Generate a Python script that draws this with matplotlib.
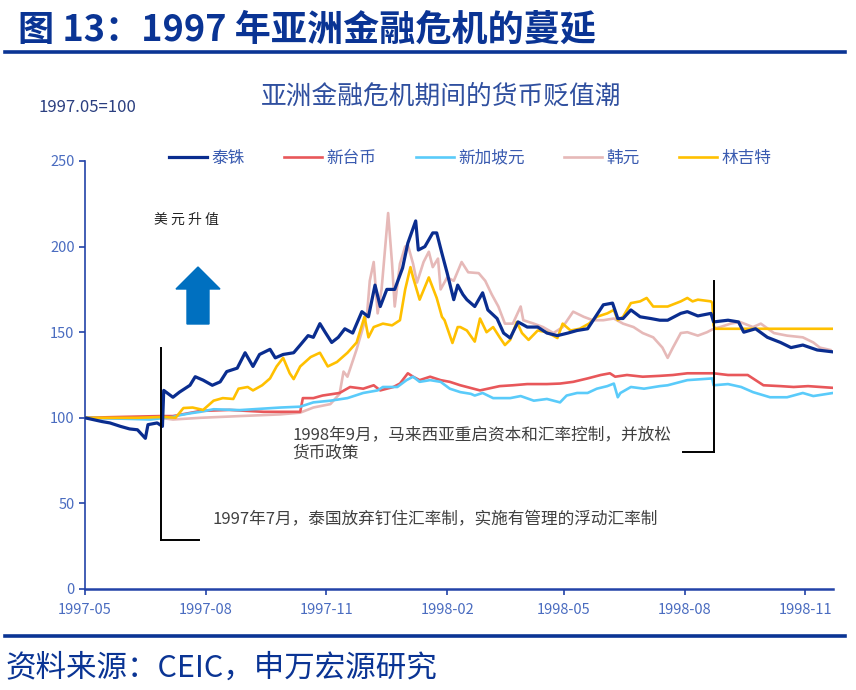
import pandas as pd
import matplotlib.pyplot as plt
import matplotlib.dates as mdates
from matplotlib.lines import Line2D
from matplotlib.patches import FancyArrow

plt.rcParams['font.family'] = ['Noto Sans CJK SC', 'DejaVu Sans']

# Data: days since 1997-05-01, index 1997.05 = 100
start = pd.Timestamp("1997-05-01")

thb_day = [0, 13, 19, 27, 34, 40, 46, 48, 55, 59, 60, 67, 72, 80, 84, 90, 97, 103, 108, 116,
           122, 128, 133, 141, 145, 151, 159, 164, 170, 174, 179, 183, 188, 193, 198, 204, 211, 216, 221, 225,
           230, 236, 242, 246, 252, 254, 259, 265, 268, 272, 276, 281, 284, 288, 291, 297, 303, 307, 314, 319,
           324, 330, 337, 345, 352, 360, 368, 375, 383, 389, 395, 402, 406, 410, 416, 423, 431, 438, 444, 454,
           459, 467, 477, 479, 490, 498, 502, 511, 520, 530, 538, 547, 558, 570]
thb_val = [100, 97.8, 97, 95, 93.5, 93, 88, 96, 97, 95, 116, 112, 115, 119, 124, 122, 119, 121, 127, 129,
           138, 130, 137, 140, 135, 137, 138, 142.5, 148, 147, 155, 150, 144, 147, 152, 149.5, 162, 159, 177.5, 165,
           175, 175, 187.5, 202, 215, 198, 200, 208, 208, 196, 184.5, 169, 177.5, 172, 169, 165, 173, 163, 158, 149.5,
           146.6, 156, 153, 153, 149.5, 148, 149.5, 151, 152, 159, 166, 167, 158, 158, 163, 159, 158, 157, 157, 161,
           162, 159.5, 161, 156, 157, 156, 150, 152, 147, 144, 141, 142.5, 139.6, 138.5]

twd_day = [0, 27, 57, 67, 88, 110, 136, 164, 166, 174, 181, 194, 202, 212, 220, 225, 235, 240, 246, 250,
           255, 263, 271, 278, 286, 296, 301, 307, 316, 326, 337, 352, 362, 372, 383, 393, 400, 404, 413, 425,
           438, 448, 459, 479, 490, 505, 509, 517, 530, 540, 551, 570]
twd_val = [100, 100.5, 101, 101, 104, 104.6, 103.5, 103.5, 111.5, 111.5, 113, 114.5, 118, 117, 119, 116, 118, 120, 126, 124,
           122, 124, 122, 121, 119, 117, 116, 117, 118.5, 119, 119.7, 119.7, 120, 121, 123, 125, 126, 124, 125, 124,
           124.5, 125, 126, 126, 125, 125, 123, 119, 118.5, 118, 118.5, 117.5]

sgd_day = [0, 27, 50, 67, 72, 80, 88, 98, 118, 149, 164, 174, 187, 200, 212, 223, 227, 238, 245, 250,
           255, 263, 271, 278, 286, 294, 297, 303, 311, 324, 332, 342, 352, 362, 367, 375, 383, 390, 398, 403,
           406, 408, 416, 426, 438, 444, 459, 478, 479, 490, 500, 509, 522, 535, 547, 555, 570]
sgd_val = [100, 99.5, 99, 100.5, 101.5, 102.6, 103.5, 105, 104.5, 106, 106.5, 109, 110, 111.5, 114.5, 116, 118, 118, 122, 124,
           121, 122, 121, 117, 115, 114, 113, 114.5, 111.5, 111.5, 112.7, 110, 111, 109, 113, 114.5, 114.5, 117, 118.5, 120,
           112, 114.5, 118, 117, 118.5, 119, 122, 123, 119, 119.7, 118, 115, 112, 112, 114.5, 112.7, 114.5]

krw_day = [0, 27, 57, 67, 88, 118, 149, 164, 174, 187, 194, 197, 200, 207, 215, 217, 220, 223, 226, 231,
           234, 236, 240, 244, 246, 250, 253, 258, 262, 265, 269, 271, 276, 281, 287, 292, 300, 305, 310, 315,
           320, 326, 332, 334, 342, 349, 357, 364, 372, 380, 387, 395, 403, 410, 418, 425, 433, 440, 444, 448,
           454, 459, 467, 474, 479, 484, 492, 499, 509, 515, 525, 535, 547, 555, 560, 568]
krw_val = [100, 99.5, 100, 99, 100, 101, 102, 103, 106, 108, 114, 127, 124, 140, 161, 180, 191, 161, 175, 219.6,
           190, 165, 190, 200, 201, 190, 179, 191, 197, 188, 193, 175, 182, 180, 191, 185, 184.5, 180, 172, 165,
           155, 155, 165, 157, 155, 153, 149.5, 153, 162, 159, 157, 157, 158, 155, 153, 149.5, 147, 141, 135, 141,
           149.5, 150, 148, 150, 152, 153, 155, 156, 153, 155, 149.5, 148, 147, 144, 141, 139.6]

myr_day = [0, 40, 60, 69, 75, 82, 90, 98, 105, 113, 117, 124, 128, 135, 141, 146, 151, 156, 159, 164,
           172, 179, 185, 192, 200, 207, 213, 216, 220, 227, 234, 240, 244, 248, 250, 255, 262, 268, 272, 274,
           280, 284, 286, 291, 297, 301, 306, 311, 316, 320, 324, 329, 333, 338, 345, 352, 360, 364, 370, 377,
           384, 390, 398, 403, 406, 410, 416, 423, 428, 433, 438, 444, 454, 459, 463, 467, 477, 478, 479, 480, 570]
myr_val = [100, 100, 100.5, 100, 105.7, 106, 104.6, 110, 111.5, 111, 117, 118, 116, 119, 123, 130, 135, 126, 122.6, 130,
           135.5, 138, 130, 132.6, 138, 144, 159, 147, 153, 155, 154, 157, 175, 188, 182, 169, 182, 170, 159, 157,
           143.7, 153, 153, 151, 144.5, 158, 150, 153, 147, 142.5, 145.5, 156, 149.5, 145.5, 151, 150, 146.6, 155, 151, 152,
           155, 159, 161, 163, 157, 159, 167, 168, 170, 165, 165, 165, 168, 170, 168, 169, 168, 167, 154, 152, 152]

series = [
    ("泰铢", thb_day, thb_val, "#0A2D8F", 2.3, 6),
    ("新台币", twd_day, twd_val, "#E8575A", 1.9, 3),
    ("新加坡元", sgd_day, sgd_val, "#5ACBFA", 1.9, 3),
    ("韩元", krw_day, krw_val, "#E6B9B8", 1.9, 2),
    ("林吉特", myr_day, myr_val, "#FFC000", 1.9, 5),
]

# annotation markers (day, value)
thai_day, thai_top, thai_bottom, thai_end = 58, 141, 28.6, 87
my_day, my_top, my_bottom, my_start = 479, 180, 80, 456


def to_date(d):
    return start + pd.to_timedelta(d, unit="D")


fig = plt.figure(figsize=(8.56, 6.9), dpi=100)
ax = fig.add_axes([85 / 856, 1 - 589 / 690, 748 / 856, 428 / 690])

handles = []
for name, days, vals, color, lw, z in series:
    dates = [to_date(d) for d in days]
    ln, = ax.plot(dates, vals, color=color, linewidth=lw, label=name, zorder=z)
    handles.append(ln)

# event lines
ax.plot([to_date(thai_day)] * 2, [thai_top, thai_bottom], color="black", lw=1.4, zorder=7)
ax.plot([to_date(thai_day), to_date(thai_end)], [thai_bottom] * 2, color="black", lw=1.4, zorder=7)
ax.plot([to_date(my_day)] * 2, [my_top, my_bottom], color="black", lw=1.4, zorder=7)
ax.plot([to_date(my_start), to_date(my_day)], [my_bottom] * 2, color="black", lw=1.4, zorder=7)

ax.text(to_date(158), 94.5, "1998年9月，马来西亚重启资本和汇率控制，并放松\n货币政策",
        fontsize=12, color="#404040", va="top", ha="left", linespacing=1.05)
ax.text(to_date(97), 40.3, "1997年7月，泰国放弃钉住汇率制，实施有管理的浮动汇率制",
        fontsize=12, color="#404040", va="center", ha="left")
ax.text(to_date(77), 215.5, "美 元 升 值", fontsize=10, color="#222222", va="center", ha="center")

ax.set_ylim(0, 250)
ax.set_xlim(start, to_date(570))
ax.set_yticks([0, 50, 100, 150, 200, 250])
ax.xaxis.set_major_locator(mdates.MonthLocator(bymonth=[2, 5, 8, 11]))
ax.xaxis.set_major_formatter(mdates.DateFormatter("%Y-%m"))

axis_c = "#2343A8"
for s in ["top", "right"]:
    ax.spines[s].set_visible(False)
ax.spines["left"].set_color(axis_c)
ax.spines["left"].set_linewidth(1.2)
ax.spines["bottom"].set_color(axis_c)
ax.spines["bottom"].set_linewidth(1.8)
ax.tick_params(axis="both", colors=axis_c, labelcolor="#4A6CC0", labelsize=10.5, length=4, width=1.2)
ax.tick_params(axis="x", pad=6)

leg = ax.legend(handles=handles, ncol=5, loc="center", bbox_to_anchor=(470 / 856, 1 - 158 / 690),
                bbox_transform=fig.transFigure, frameon=False, fontsize=12,
                handlelength=2.3, handletextpad=0.25, columnspacing=2.35)
for t in leg.get_texts():
    t.set_color("#3A5BB0")

# arrow
fig.patches.append(FancyArrow(198 / 856, 1 - 324 / 690, 0, 57 / 690, width=22 / 856,
                              head_width=44 / 856, head_length=22 / 690, length_includes_head=True,
                              color="#0070C0", transform=fig.transFigure, figure=fig))

# header / footer
fig.text(18 / 856, 1 - 30 / 690, "图 13：1997 年亚洲金融危机的蔓延", fontsize=26, fontweight="bold",
         color="#0A3494", va="center", ha="left")
fig.add_artist(Line2D([5 / 856, 845 / 856], [1 - 52 / 690] * 2, color="#0A3494", lw=2.6))
fig.add_artist(Line2D([5 / 856, 845 / 856], [1 - 636 / 690] * 2, color="#0A3494", lw=2.6))
fig.text(5 / 856, 1 - 668 / 690, "资料来源：CEIC，申万宏源研究", fontsize=22, color="#0A3494",
         va="center", ha="left")
fig.text(441 / 856, 1 - 97 / 690, "亚洲金融危机期间的货币贬值潮", fontsize=18.5, color="#2F4F9F",
         va="center", ha="center")
fig.text(38 / 856, 1 - 107 / 690, "1997.05=100", fontsize=12, color="#2B3F80", va="center", ha="left")

fig.savefig("out.png", dpi=100)
